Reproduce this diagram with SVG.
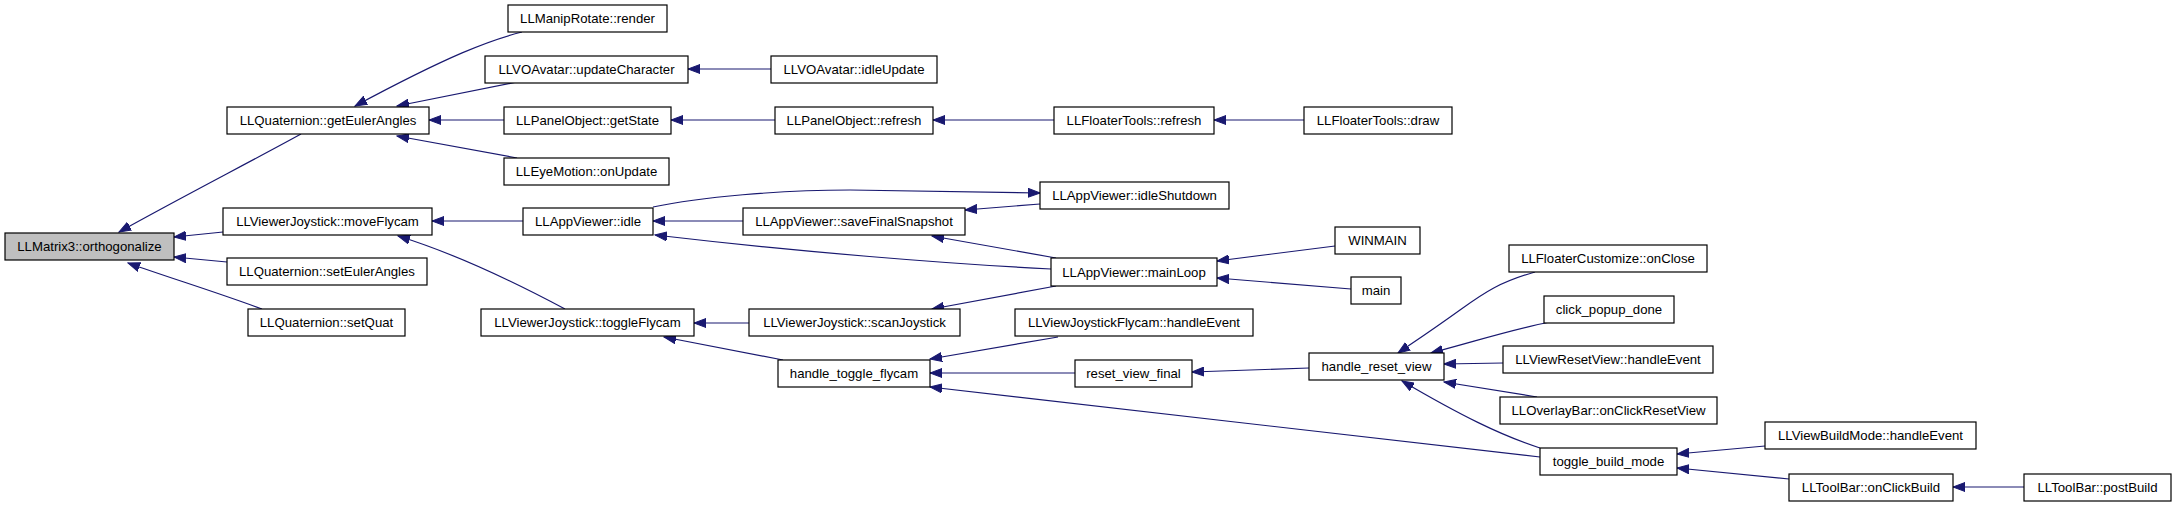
<svg xmlns="http://www.w3.org/2000/svg" width="2176" height="505" viewBox="0 0 2176 505">
<style>
.n rect{fill:#ffffff;stroke:#000000;stroke-width:1.2}
.n text{font-family:"Liberation Sans",Arial,sans-serif;font-size:13.2px;fill:#000000;text-anchor:middle}
#edges path{fill:none;stroke:#191970;stroke-width:1.2;marker-end:url(#ah)}
</style>
<defs>
<marker id="ah" markerUnits="userSpaceOnUse" markerWidth="13" markerHeight="10" refX="12" refY="5" orient="auto">
<path d="M0,0.5 L12,5 L0,9.5 Z" fill="#191970" stroke="#191970" stroke-width="1"/>
</marker>
</defs>
<rect width="2176" height="505" fill="#ffffff"/>
<g id="edges">
<path d="M301,134 C250,162 180,198 119,232"/>
<path d="M223,232 L174,237"/>
<path d="M227,262 L174,257"/>
<path d="M262,309 C210,290 170,278 128,263"/>
<path d="M522,32 C490,40 450,55 355,106"/>
<path d="M517,82 L397,106"/>
<path d="M504,120 L429,120"/>
<path d="M517,158 L397,136"/>
<path d="M771,69 L688,69"/>
<path d="M775,120 L671,120"/>
<path d="M1054,120 L933,120"/>
<path d="M1304,120 L1214,120"/>
<path d="M523,221 L432,221"/>
<path d="M565,309 C520,285 460,255 398,236"/>
<path d="M653,207 C700,197 780,190 850,190 L1040,193"/>
<path d="M1040,204 L965,210"/>
<path d="M743,221 L653,221"/>
<path d="M1051,269 C950,264 800,252 655,235"/>
<path d="M1056,258 L932,236"/>
<path d="M1056,286 L932,309"/>
<path d="M1335,246 L1217,261"/>
<path d="M1351,289 L1217,278"/>
<path d="M749,323 L694,323"/>
<path d="M783,360 L664,337"/>
<path d="M1058,337 L930,359"/>
<path d="M1075,373 L930,373"/>
<path d="M1540,457 L930,387"/>
<path d="M1309,368 L1192,372"/>
<path d="M1535,272 C1500,282 1485,292 1460,310 S1420,338 1398,353"/>
<path d="M1550,322 C1510,330 1480,340 1431,353"/>
<path d="M1503,363 L1444,364"/>
<path d="M1537,397 L1444,382"/>
<path d="M1540,448 C1500,435 1460,415 1402,381"/>
<path d="M1765,446 L1677,454"/>
<path d="M1789,479 L1677,468"/>
<path d="M2024,487 L1953,487"/>
</g>
<g id="matrix" class="n"><rect x="5" y="233" width="169" height="27" style="fill:#bfbfbf"/><text x="89.5" y="251">LLMatrix3::orthogonalize</text></g>
<g id="getEuler" class="n"><rect x="227" y="107" width="202" height="27"/><text x="328" y="125">LLQuaternion::getEulerAngles</text></g>
<g id="moveFlycam" class="n"><rect x="223" y="208" width="209" height="27"/><text x="327.5" y="226">LLViewerJoystick::moveFlycam</text></g>
<g id="setEuler" class="n"><rect x="227" y="258" width="200" height="27"/><text x="327" y="276">LLQuaternion::setEulerAngles</text></g>
<g id="setQuat" class="n"><rect x="248" y="309" width="157" height="27"/><text x="326.5" y="327">LLQuaternion::setQuat</text></g>
<g id="manipRender" class="n"><rect x="508" y="5" width="159" height="27"/><text x="587.5" y="23">LLManipRotate::render</text></g>
<g id="updateChar" class="n"><rect x="485" y="56" width="203" height="27"/><text x="586.5" y="74">LLVOAvatar::updateCharacter</text></g>
<g id="getState" class="n"><rect x="504" y="107" width="167" height="27"/><text x="587.5" y="125">LLPanelObject::getState</text></g>
<g id="onUpdate" class="n"><rect x="504" y="158" width="165" height="27"/><text x="586.5" y="176">LLEyeMotion::onUpdate</text></g>
<g id="idle" class="n"><rect x="523" y="208" width="130" height="27"/><text x="588" y="226">LLAppViewer::idle</text></g>
<g id="toggleFlycam" class="n"><rect x="481" y="309" width="213" height="27"/><text x="587.5" y="327">LLViewerJoystick::toggleFlycam</text></g>
<g id="idleUpdate" class="n"><rect x="771" y="56" width="166" height="27"/><text x="854" y="74">LLVOAvatar::idleUpdate</text></g>
<g id="panelRefresh" class="n"><rect x="775" y="107" width="158" height="27"/><text x="854" y="125">LLPanelObject::refresh</text></g>
<g id="saveFinal" class="n"><rect x="743" y="208" width="222" height="27"/><text x="854" y="226">LLAppViewer::saveFinalSnapshot</text></g>
<g id="scanJoystick" class="n"><rect x="749" y="309" width="211" height="27"/><text x="854.5" y="327">LLViewerJoystick::scanJoystick</text></g>
<g id="handleToggle" class="n"><rect x="778" y="360" width="152" height="27"/><text x="854" y="378">handle_toggle_flycam</text></g>
<g id="floaterRefresh" class="n"><rect x="1054" y="107" width="160" height="27"/><text x="1134" y="125">LLFloaterTools::refresh</text></g>
<g id="idleShutdown" class="n"><rect x="1040" y="182" width="189" height="27"/><text x="1134.5" y="200">LLAppViewer::idleShutdown</text></g>
<g id="mainLoop" class="n"><rect x="1051" y="258" width="166" height="28"/><text x="1134" y="276.5">LLAppViewer::mainLoop</text></g>
<g id="vjfHandle" class="n"><rect x="1015" y="309" width="238" height="27"/><text x="1134" y="327">LLViewJoystickFlycam::handleEvent</text></g>
<g id="resetViewFinal" class="n"><rect x="1075" y="360" width="117" height="27"/><text x="1133.5" y="378">reset_view_final</text></g>
<g id="floaterDraw" class="n"><rect x="1304" y="107" width="148" height="27"/><text x="1378" y="125">LLFloaterTools::draw</text></g>
<g id="winmain" class="n"><rect x="1335" y="227" width="85" height="27"/><text x="1377.5" y="245">WINMAIN</text></g>
<g id="main" class="n"><rect x="1351" y="277" width="50" height="27"/><text x="1376" y="295">main</text></g>
<g id="handleResetView" class="n"><rect x="1309" y="353" width="135" height="27"/><text x="1376.5" y="371">handle_reset_view</text></g>
<g id="onClose" class="n"><rect x="1509" y="245" width="198" height="27"/><text x="1608" y="263">LLFloaterCustomize::onClose</text></g>
<g id="clickPopup" class="n"><rect x="1544" y="296" width="130" height="27"/><text x="1609" y="314">click_popup_done</text></g>
<g id="viewResetView" class="n"><rect x="1503" y="346" width="210" height="27"/><text x="1608" y="364">LLViewResetView::handleEvent</text></g>
<g id="overlayBar" class="n"><rect x="1500" y="397" width="217" height="27"/><text x="1608.5" y="415">LLOverlayBar::onClickResetView</text></g>
<g id="toggleBuild" class="n"><rect x="1540" y="448" width="137" height="27"/><text x="1608.5" y="466">toggle_build_mode</text></g>
<g id="viewBuildMode" class="n"><rect x="1765" y="422" width="211" height="27"/><text x="1870.5" y="440">LLViewBuildMode::handleEvent</text></g>
<g id="onClickBuild" class="n"><rect x="1789" y="474" width="164" height="27"/><text x="1871" y="492">LLToolBar::onClickBuild</text></g>
<g id="postBuild" class="n"><rect x="2024" y="474" width="147" height="27"/><text x="2097.5" y="492">LLToolBar::postBuild</text></g>
</svg>
